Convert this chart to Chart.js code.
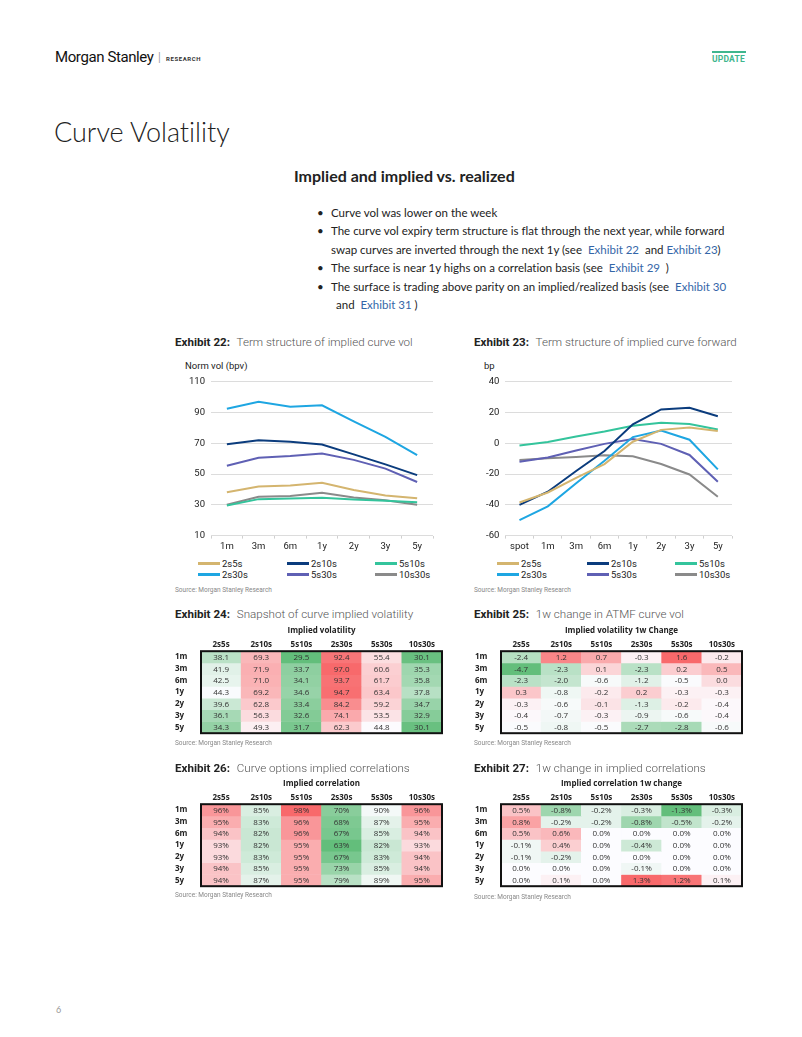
<!DOCTYPE html>
<html>
<head>
<meta charset="utf-8">
<script src="https://cdn.jsdelivr.net/npm/chart.js@4.4.0/dist/chart.umd.min.js"></script>
<style>
body { margin:0; width:802px; height:1037px; position:relative; overflow:hidden; background:#fff; font-family:Lato,'Open Sans',sans-serif; color:#222; font-variant-ligatures:none; }
.abs { position:absolute; white-space:nowrap; }
.ex { font-family:Roboto,sans-serif; font-size:11.6px; color:#555; font-weight:300; }
.ex b { color:#222; font-weight:700; margin-right:4px; }
.src { font-family:Roboto,sans-serif; font-size:6.5px; color:#888; }
.bl { font-size:11.5px; color:#222; }
.lnk { color:#3466a8; }
.leg { font-family:Roboto,sans-serif; font-size:9.5px; color:#222; display:flex; align-items:center; }
.leg span.sw { display:inline-block; width:22px; height:2.5px; margin-right:2px; }
canvas { position:absolute; }
</style>
</head>
<body>

<div class="abs" style="left:55px;top:48px;font-family:'Liberation Sans Narrow','Roboto',sans-serif;font-size:15px;letter-spacing:-0.4px;color:#111">Morgan Stanley</div>
<div class="abs" style="left:158px;top:50px;font-size:11px;color:#999">|</div>
<div class="abs" style="left:166px;top:55px;font-family:Roboto,sans-serif;font-size:6px;font-weight:700;letter-spacing:0.6px;color:#333">RESEARCH</div>
<div class="abs" style="left:712px;top:51px;width:34px;height:2px;background:#3fb68e"></div>
<div class="abs" style="left:712px;top:54px;font-family:Roboto,sans-serif;font-size:8.5px;font-weight:700;color:#3fb68e;letter-spacing:0.2px">UPDATE</div>

<div class="abs" style="left:54px;top:115px;font-size:27px;font-weight:300;color:#222">Curve Volatility</div>
<div class="abs" style="left:294px;top:166px;font-size:16px;font-weight:700;color:#222">Implied and implied vs. realized</div>

<div class="abs bl" style="left:317px;top:206px">•</div>
<div class="abs bl" style="left:331px;top:206px">Curve vol was lower on the week</div>
<div class="abs bl" style="left:317px;top:224px">•</div>
<div class="abs bl" style="left:331px;top:224px">The curve vol expiry term structure is flat through the next year, while forward</div>
<div class="abs bl" style="left:331px;top:243px">swap curves are inverted through the next 1y (see &nbsp;<span class="lnk">Exhibit 22</span> &nbsp;and <span class="lnk">Exhibit 23</span>)</div>
<div class="abs bl" style="left:317px;top:261px">•</div>
<div class="abs bl" style="left:331px;top:261px">The surface is near 1y highs on a correlation basis (see &nbsp;<span class="lnk">Exhibit 29</span> &nbsp;)</div>
<div class="abs bl" style="left:317px;top:280px">•</div>
<div class="abs bl" style="left:331px;top:280px">The surface is trading above parity on an implied/realized basis (see &nbsp;<span class="lnk">Exhibit 30</span></div>
<div class="abs bl" style="left:336px;top:298px">and &nbsp;<span class="lnk">Exhibit 31</span> )</div>

<div class="abs ex" style="left:175px;top:335px"><b>Exhibit 22:</b> Term structure of implied curve vol</div>
<div class="abs ex" style="left:474px;top:335px"><b>Exhibit 23:</b> Term structure of implied curve forward</div>
<div class="abs" style="left:185px;top:360px;font-family:Roboto,sans-serif;font-size:9.5px">Norm vol (bpv)</div>
<div class="abs" style="left:484px;top:360px;font-family:Roboto,sans-serif;font-size:9.5px">bp</div>
<canvas id="c22" width="262" height="186" style="left:175px;top:370px"></canvas>
<canvas id="c23" width="268" height="186" style="left:474px;top:370px"></canvas>
<div id="leg22"></div>
<div id="leg23"></div>
<div class="abs src" style="left:175px;top:586px">Source: Morgan Stanley Research</div>
<div class="abs src" style="left:474px;top:586px">Source: Morgan Stanley Research</div>

<div class="abs ex" style="left:175px;top:607px"><b>Exhibit 24:</b> Snapshot of curve implied volatility</div>
<div class="abs ex" style="left:474px;top:607px"><b>Exhibit 25:</b> 1w change in ATMF curve vol</div>
<canvas id="t24" width="276" height="114" style="left:169px;top:626px"></canvas>
<canvas id="t25" width="276" height="114" style="left:469px;top:626px"></canvas>
<div class="abs src" style="left:175px;top:739px">Source: Morgan Stanley Research</div>
<div class="abs src" style="left:474px;top:739px">Source: Morgan Stanley Research</div>

<div class="abs ex" style="left:175px;top:761px"><b>Exhibit 26:</b> Curve options implied correlations</div>
<div class="abs ex" style="left:474px;top:761px"><b>Exhibit 27:</b> 1w change in implied correlations</div>
<canvas id="t26" width="276" height="114" style="left:169px;top:779px"></canvas>
<canvas id="t27" width="276" height="114" style="left:469px;top:779px"></canvas>
<div class="abs src" style="left:175px;top:891px">Source: Morgan Stanley Research</div>
<div class="abs src" style="left:474px;top:893px">Source: Morgan Stanley Research</div>

<div class="abs" style="left:56px;top:1004px;font-size:9px;color:#999">6</div>

<script>
// curves and expiries
const curveNames = ['2s5s', '2s10s', '5s10s', '2s30s', '5s30s', '10s30s'];
const curveColors = ['#d4b56f', '#0b3c7d', '#34c49c', '#1ea6e2', '#5f60b4', '#8a8a8a'];
const volTenors = ['1m', '3m', '6m', '1y', '2y', '3y', '5y'];
const fwdTenors = ['spot', '1m', '3m', '6m', '1y', '2y', '3y', '5y'];

// implied vol (Exhibit 22 + 24), one array per curve
const vol2s5s = [38.1, 41.9, 42.5, 44.3, 39.6, 36.1, 34.3];
const vol2s10s = [69.3, 71.9, 71.0, 69.2, 62.8, 56.3, 49.3];
const vol5s10s = [29.5, 33.7, 34.1, 34.6, 33.4, 32.6, 31.7];
const vol2s30s = [92.4, 97.0, 93.7, 94.7, 84.2, 74.1, 62.3];
const vol5s30s = [55.4, 60.6, 61.7, 63.4, 59.2, 53.5, 44.8];
const vol10s30s = [30.1, 35.3, 35.8, 37.8, 34.7, 32.9, 30.1];

// implied forwards (Exhibit 23)
const fwd2s5s = [-38.5, -32, -22.5, -13.5, 1, 8.7, 10.2, 8];
const fwd2s10s = [-40, -31.5, -18, -5, 12.3, 22, 23, 17.5];
const fwd5s10s = [-1.5, 0.8, 4.4, 7.6, 11.4, 13.3, 12.5, 9];
const fwd2s30s = [-50, -41, -26, -11.4, 4, 8.2, 2.3, -17];
const fwd5s30s = [-12, -9.3, -4.7, -0.4, 2.7, -0.4, -7.6, -25];
const fwd10s30s = [-10.8, -9.7, -8.9, -7.8, -8.5, -13.5, -20.3, -34.7];

// 1w change in ATMF curve vol (Exhibit 25)
const chg2s5s = [-2.4, -4.7, -2.3, 0.3, -0.3, -0.4, -0.5];
const chg2s10s = [1.2, -2.3, -2.0, -0.8, -0.6, -0.7, -0.8];
const chg5s10s = [0.7, 0.1, -0.6, -0.2, -0.1, -0.3, -0.5];
const chg2s30s = [-0.3, -2.3, -1.2, 0.2, -1.3, -0.9, -2.7];
const chg5s30s = [1.6, 0.2, -0.5, -0.3, -0.2, -0.6, -2.8];
const chg10s30s = [-0.2, 0.5, 0.0, -0.3, -0.4, -0.4, -0.6];

// implied correlation, % (Exhibit 26)
const corr2s5s = [96, 95, 94, 93, 93, 94, 94];
const corr2s10s = [85, 83, 82, 82, 83, 85, 87];
const corr5s10s = [98, 96, 96, 95, 95, 95, 95];
const corr2s30s = [70, 68, 67, 63, 67, 73, 79];
const corr5s30s = [90, 87, 85, 82, 83, 85, 89];
const corr10s30s = [96, 95, 94, 93, 94, 94, 95];

// 1w change in implied correlation, % (Exhibit 27)
const corrChg2s5s = [0.5, 0.8, 0.5, -0.1, -0.1, 0.0, 0.0];
const corrChg2s10s = [-0.8, -0.2, 0.6, 0.4, -0.2, 0.0, 0.1];
const corrChg5s10s = [-0.2, -0.2, 0.0, 0.0, 0.0, 0.0, 0.0];
const corrChg2s30s = [-0.3, -0.8, 0.0, -0.4, 0.0, -0.1, 1.3];
const corrChg5s30s = [-1.3, -0.5, 0.0, 0.0, 0.0, 0.0, 1.2];
const corrChg10s30s = [-0.3, -0.2, 0.0, 0.0, 0.0, 0.0, 0.1];

const volSeries = [vol2s5s, vol2s10s, vol5s10s, vol2s30s, vol5s30s, vol10s30s];
const fwdSeries = [fwd2s5s, fwd2s10s, fwd5s10s, fwd2s30s, fwd5s30s, fwd10s30s];
const chgSeries = [chg2s5s, chg2s10s, chg5s10s, chg2s30s, chg5s30s, chg10s30s];
const corrSeries = [corr2s5s, corr2s10s, corr5s10s, corr2s30s, corr5s30s, corr10s30s];
const corrChgSeries = [corrChg2s5s, corrChg2s10s, corrChg5s10s, corrChg2s30s, corrChg5s30s, corrChg10s30s];

const tickFont = { family: 'Roboto', size: 9.5 };

function lineChart(id, labels, series, min, max, pad) {
    return new Chart(document.getElementById(id), {
        type: 'line',
        data: {
            labels: labels,
            datasets: series.map((s, i) => ({
                label: curveNames[i],
                data: s,
                borderColor: curveColors[i],
                backgroundColor: curveColors[i],
                borderWidth: 2,
                pointRadius: 0,
                tension: 0,
                fill: false
            }))
        },
        options: {
            responsive: false,
            animation: false,
            layout: { padding: pad },
            plugins: { legend: { display: false }, tooltip: { enabled: false } },
            scales: {
                x: {
                    offset: true,
                    grid: { display: true, drawOnChartArea: false, offset: true, tickLength: 3, color: '#d0d0d0' },
                    border: { display: false },
                    ticks: { font: tickFont, color: '#222', padding: 2, maxRotation: 0 }
                },
                y: {
                    min: min,
                    max: max,
                    ticks: { stepSize: 20, font: tickFont, color: '#222', padding: 6 },
                    grid: { color: '#dcdcdc', drawTicks: false },
                    border: { display: false }
                }
            }
        }
    });
}

lineChart('c22', volTenors, volSeries, 10, 110, { top: 2, left: 8, right: 4, bottom: 2 });
lineChart('c23', fwdTenors, fwdSeries, -60, 40, { top: 2, left: 6, right: 10, bottom: 2 });

// legends in three columns under each line chart
function legend(boxId, cols) {
    const box = document.getElementById(boxId);
    curveNames.forEach((n, i) => {
        const d = document.createElement('div');
        d.className = 'abs leg';
        d.style.left = cols[i % 3] + 'px';
        d.style.top = (558 + Math.floor(i / 3) * 11) + 'px';
        d.innerHTML = '<span class="sw" style="background:' + curveColors[i] + '"></span>' + n;
        box.appendChild(d);
    });
}
legend('leg22', [198, 287, 375]);
legend('leg23', [497, 587, 675]);

// heat map tables
function median(arr) {
    const s = arr.slice().sort((a, b) => a - b);
    const m = Math.floor(s.length / 2);
    return s.length % 2 ? s[m] : (s[m - 1] + s[m]) / 2;
}
function mix(a, b, t) {
    return 'rgb(' + a.map((v, k) => Math.round(v + (b[k] - v) * t)).join(',') + ')';
}
const green = [99, 190, 123], white = [252, 252, 255], red = [248, 105, 107];
const tableInfo = {};

const cellText = {
    id: 'cellText',
    afterDatasetsDraw(chart) {
        const ctx = chart.ctx;
        const info = tableInfo[chart.canvas.id];
        ctx.save();
        ctx.font = '8px "Open Sans"';
        ctx.fillStyle = '#333';
        ctx.textAlign = 'center';
        ctx.textBaseline = 'middle';
        chart.data.datasets.forEach((ds, r) => {
            chart.getDatasetMeta(r).data.forEach((el, c) => {
                ctx.fillText(info.fmt(info.vals[c][r]), el.x, (el.y + el.base) / 2 + 0.5);
            });
        });
        const a = chart.chartArea;
        ctx.strokeStyle = '#111';
        ctx.lineWidth = 2;
        ctx.strokeRect(a.left, a.top, a.right - a.left, a.bottom - a.top);
        ctx.restore();
    }
};

const hdrFont = { family: 'Open Sans', size: 8, weight: 'bold' };

function heatTable(id, title, vals, fmt) {
    tableInfo[id] = { vals: vals, fmt: fmt };
    const flat = vals.flat();
    const lo = Math.min(...flat), hi = Math.max(...flat), mid = median(flat);
    const color = v => v <= mid ? mix(green, white, (v - lo) / (mid - lo || 1)) : mix(white, red, (v - mid) / (hi - mid || 1));
    return new Chart(document.getElementById(id), {
        type: 'bar',
        data: {
            labels: curveNames,
            datasets: volTenors.map((t, r) => ({
                label: t,
                data: curveNames.map(() => 1),
                backgroundColor: curveNames.map((n, c) => color(vals[c][r])),
                borderWidth: 0,
                barPercentage: 1,
                categoryPercentage: 1
            }))
        },
        options: {
            responsive: false,
            animation: false,
            layout: { padding: { left: 6, right: 3, top: 0, bottom: 3 } },
            plugins: { legend: { display: false }, tooltip: { enabled: false } },
            scales: {
                x: {
                    position: 'top',
                    stacked: true,
                    grid: { display: false, drawTicks: false },
                    border: { display: false },
                    ticks: { font: hdrFont, color: '#222', padding: 2 },
                    title: { display: true, text: title, font: hdrFont, color: '#222', padding: { top: 0, bottom: 2 } }
                },
                y: { stacked: true, min: 0, max: 7, reverse: true, display: false },
                rows: {
                    type: 'category',
                    labels: volTenors,
                    position: 'left',
                    offset: true,
                    grid: { display: false, drawTicks: false },
                    border: { display: false },
                    ticks: { font: hdrFont, color: '#222', crossAlign: 'far', padding: 2, autoSkip: false },
                    afterFit: s => { s.width = 26; }
                }
            }
        },
        plugins: [cellText]
    });
}

heatTable('t24', 'Implied volatility', volSeries, v => v.toFixed(1));
heatTable('t25', 'Implied volatility 1w Change', chgSeries, v => v.toFixed(1));
heatTable('t26', 'Implied correlation', corrSeries, v => v + '%');
heatTable('t27', 'Implied correlation 1w change', corrChgSeries, v => v.toFixed(1) + '%');
</script>
</body>
</html>
